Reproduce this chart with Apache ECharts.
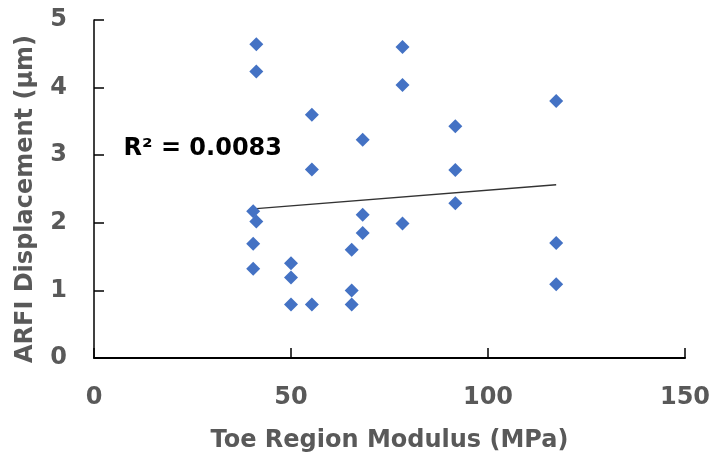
<!DOCTYPE html>
<html>
<head>
<meta charset="utf-8">
<script src="https://cdn.jsdelivr.net/npm/echarts@6/dist/echarts.min.js"></script>
<style>
  html, body { margin: 0; padding: 0; background: #fff; }
  #chart { width: 714px; height: 459px; }
</style>
</head>
<body>
<div id="chart"></div>
<script>
// Toe region modulus (MPa) against ARFI displacement (µm), one entry per specimen
const modulus = [41.2, 41.2, 41.2, 40.4, 40.4, 40.4,
                 50.0, 50.0, 50.0,
                 55.3, 55.3, 55.3,
                 65.4, 65.4, 65.4,
                 68.2, 68.2, 68.2,
                 78.3, 78.3, 78.3,
                 91.7, 91.7, 91.7,
                 117.3, 117.3, 117.3];
const displacement = [4.64, 4.24, 2.02, 2.17, 1.69, 1.32,
                      1.40, 1.19, 0.79,
                      3.60, 2.79, 0.79,
                      1.60, 1.00, 0.79,
                      3.23, 2.12, 1.85,
                      4.60, 4.04, 1.99,
                      3.43, 2.78, 2.29,
                      3.80, 1.70, 1.09];
const xTicks = [0, 150, 50];   // min, max, step
const yTicks = [0, 5, 1];
const rSquaredText = 'R² = 0.0083';

const points = modulus.map((x, i) => [x, displacement[i]]);

// Least-squares linear trendline across the measured range
const n = modulus.length;
const mx = modulus.reduce((a, b) => a + b, 0) / n;
const my = displacement.reduce((a, b) => a + b, 0) / n;
let sxy = 0, sxx = 0;
for (let i = 0; i < n; i++) {
  sxy += (modulus[i] - mx) * (displacement[i] - my);
  sxx += (modulus[i] - mx) * (modulus[i] - mx);
}
const slope = sxy / sxx;
const intercept = my - slope * mx;
const xLo = Math.min(...modulus), xHi = Math.max(...modulus);
const trend = [[xLo, intercept + slope * xLo], [xHi, intercept + slope * xHi]];

const FONT = '"DejaVu Sans", sans-serif';
const GREY = '#595959';
const FS = 24;

const chart = echarts.init(document.getElementById('chart'), null, { renderer: 'canvas' });
const textStyle = { color: GREY, fontFamily: FONT, fontWeight: 'bold', fontSize: FS };

chart.setOption({
  animation: false,
  backgroundColor: '#fff',
  grid: { left: 94, right: 29, top: 20, bottom: 101 },
  xAxis: {
    type: 'value', min: xTicks[0], max: xTicks[1], interval: xTicks[2],
    splitLine: { show: false },
    axisLine: { show: true, onZero: false, lineStyle: { color: '#000', width: 2 } },
    axisTick: { show: true, inside: true, length: 10, lineStyle: { color: '#000', width: 1.5 } },
    name: 'Toe Region Modulus (MPa)', nameLocation: 'middle', nameGap: 71,
    nameTextStyle: textStyle,
    axisLabel: Object.assign({ margin: 28 }, textStyle)
  },
  yAxis: {
    type: 'value', min: yTicks[0], max: yTicks[1], interval: yTicks[2],
    splitLine: { show: false },
    axisLine: { show: true, onZero: false, lineStyle: { color: '#000', width: 1.5 } },
    axisTick: { show: true, inside: true, length: 10, lineStyle: { color: '#000', width: 1.5 } },
    name: 'ARFI Displacement (μm)', nameLocation: 'middle', nameGap: 56,
    nameTextStyle: Object.assign({ padding: [0, 20, 0, 0] }, textStyle),
    axisLabel: Object.assign({ margin: 27 }, textStyle)
  },
  series: [
    {
      type: 'line', data: trend, symbol: 'none', silent: true,
      lineStyle: { color: '#333', width: 1.3 }, z: 1
    },
    {
      type: 'scatter', data: points, symbol: 'diamond', symbolSize: 14,
      itemStyle: { color: '#4472C4', opacity: 1 }, z: 2
    }
  ]
});

// R² annotation anchored in data space
const anchor = chart.convertToPixel({ gridIndex: 0 }, [7.5, 3.1]);
chart.setOption({
  graphic: [{
    type: 'text', x: anchor[0], y: anchor[1],
    style: {
      text: rSquaredText, fill: '#000', font: 'bold ' + FS + 'px ' + FONT,
      textAlign: 'left', textVerticalAlign: 'middle'
    }
  }]
});
</script>
</body>
</html>
